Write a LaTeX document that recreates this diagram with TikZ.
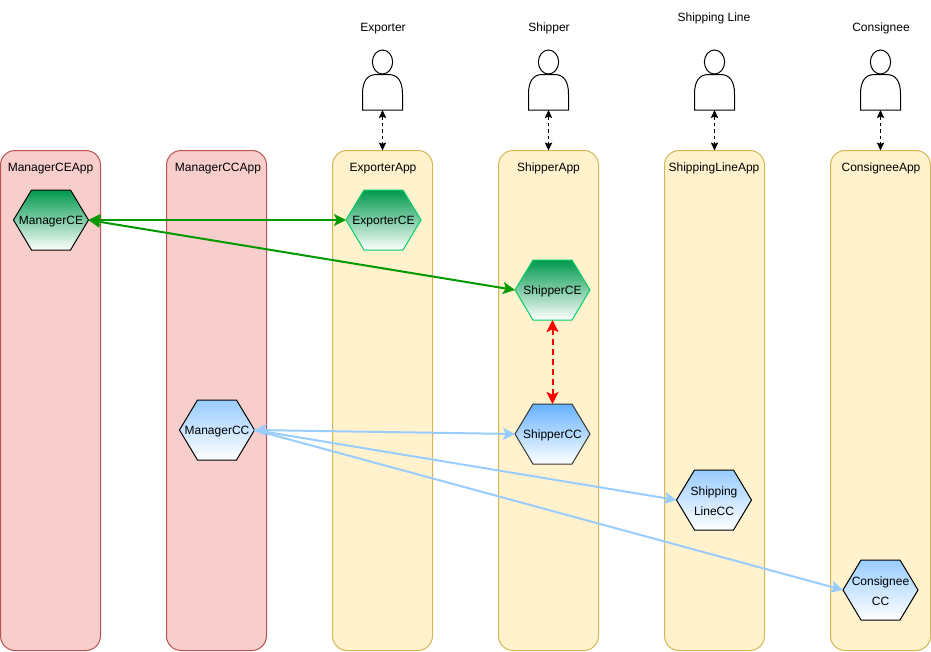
\documentclass[tikz,border=0pt]{standalone}
\usepackage{fontspec}
\setmainfont{Liberation Sans}
\usetikzlibrary{arrows.meta,calc}
\definecolor{redfill}{HTML}{F8CECC}
\definecolor{redline}{HTML}{B85450}
\definecolor{yelfill}{HTML}{FFF2CC}
\definecolor{yelline}{HTML}{D6B656}
\definecolor{gtop}{HTML}{00994D}
\definecolor{gline}{HTML}{00CC66}
\definecolor{conng}{HTML}{009900}
\definecolor{btop}{HTML}{99CCFF}
\definecolor{bstrong}{HTML}{66B2FF}
\tikzset{
  x=0.75pt,y=-0.75pt,
  txt/.style={font=\fontsize{9pt}{14.7pt}\selectfont,text=black,align=center,inner sep=0pt,outer sep=0pt,yshift=-1pt},
  lanebox/.style={draw,line width=0.75pt,rounded corners=11pt,minimum width=75pt,minimum height=375pt,inner sep=0pt,outer sep=0pt},
  mgrlane/.style={lanebox,fill=redfill,draw=redline},
  applane/.style={lanebox,fill=yelfill,draw=yelline},
  hexnode/.style={minimum width=56.25pt,minimum height=45pt,inner sep=0pt,outer sep=0pt},
  hexshape/.style={line width=0.75pt,line join=miter},
  greenhex/.style={hexshape,top color=gtop,bottom color=white,draw=gline},
  greenblk/.style={hexshape,top color=gtop,bottom color=white,draw=black},
  bluehex/.style={hexshape,top color=btop,bottom color=white,draw=black},
  bluestrong/.style={hexshape,top color=bstrong,bottom color=white,draw=black!80},
  actorbox/.style={minimum width=30pt,minimum height=45pt,inner sep=0pt,outer sep=0pt},
  actorline/.style={draw=black,fill=white,line width=0.75pt},
  smalltip/.style={Stealth[length=6pt,width=5.5pt,inset=1pt]},
  bigtip/.style={Stealth[length=9pt,width=9pt,inset=2pt]},
  userlink/.style={draw=black,line width=0.75pt,dash pattern=on 2.6pt off 2.2pt,{Stealth[length=6pt,width=5.5pt,inset=1pt]}-{Stealth[length=6pt,width=5.5pt,inset=1pt]}},
  greenlink/.style={draw=conng,line width=1.5pt,{Stealth[length=9pt,width=9pt,inset=2pt]}-{Stealth[length=9pt,width=9pt,inset=2pt]}},
  bluelink/.style={draw=btop,line width=1.5pt,-{Stealth[length=9pt,width=9pt,inset=2pt]}},
  bluelinkboth/.style={draw=btop,line width=1.5pt,{Stealth[length=9pt,width=9pt,inset=2pt]}-{Stealth[length=9pt,width=9pt,inset=2pt]}},
  redlink/.style={draw=red,line width=1.5pt,dash pattern=on 4.5pt off 3pt,{Stealth[length=9pt,width=9pt,inset=2pt]}-{Stealth[length=9pt,width=9pt,inset=2pt]}},
}
% \hexa{name}{cx}{cy}{style}{text}
\newcommand{\hexa}[5]{%
  \path[#4] (#2-37.5,#3) -- (#2-19.5,#3-30) -- (#2+19.5,#3-30) -- (#2+37.5,#3) -- (#2+19.5,#3+30) -- (#2-19.5,#3+30) -- cycle;
  \node[hexnode] (#1) at (#2,#3) {};
  \node[txt] (#1text) at (#2,#3) {#5};
}
% \actor{name}{cx}
\newcommand{\actor}[2]{%
  \path[actorline] (#2-20,110) -- (#2-20,94) .. controls (#2-20,81) and (#2-15,74.5) .. (#2-6,74.5) -- (#2+6,74.5) .. controls (#2+15,74.5) and (#2+20,81) .. (#2+20,94) -- (#2+20,110) -- cycle;
  \path[actorline] (#2,62) ellipse [x radius=7.6pt,y radius=9pt];
  \node[actorbox] (#1) at (#2,80) {};
}
\begin{document}
\begin{tikzpicture}
\useasboundingbox[fill=white] (0,0) rectangle (931,651);
% lanes
\node[mgrlane] (laneA) at (50.5,400.5) {};
\node[mgrlane] (laneB) at (216.5,400.5) {};
\node[applane] (laneC) at (382.5,400.5) {};
\node[applane] (laneD) at (548.5,400.5) {};
\node[applane] (laneE) at (714.5,400.5) {};
\node[applane] (laneF) at (880.5,400.5) {};
% lane titles
\node[txt] (titleA) at (50.5,167) {ManagerCEApp};
\node[txt] (titleB) at (218,167) {ManagerCCApp};
\node[txt] (titleC) at (383,167) {ExporterApp};
\node[txt] (titleD) at (548.5,167) {ShipperApp};
\node[txt] (titleE) at (714,167) {ShippingLineApp};
\node[txt] (titleF) at (881,167) {ConsigneeApp};
% actors
\actor{exporter}{382.5}
\actor{shipper}{548.5}
\actor{shipline}{714.5}
\actor{consignee}{880.5}
\node[txt] (lblexp) at (383,27) {Exporter};
\node[txt] (lblshp) at (549,27) {Shipper};
\node[txt] (lbllin) at (714,17) {Shipping Line};
\node[txt] (lblcon) at (881,27) {Consignee};
% hexagons
\hexa{mce}{51}{220}{greenblk}{ManagerCE}
\hexa{ece}{383.5}{220}{greenhex}{ExporterCE}
\hexa{sce}{552.5}{290}{greenhex}{ShipperCE}
\hexa{mcc}{217}{430}{bluehex}{ManagerCC}
\hexa{scc}{552.5}{434}{bluestrong}{ShipperCC}
\hexa{lcc}{714}{500}{bluehex}{Shipping\\LineCC}
\hexa{ccc}{880.5}{590}{bluehex}{Consignee\\CC}
% connectors
\draw[userlink] (exporter.south) -- (laneC.north);
\draw[userlink] (shipper.south) -- (laneD.north);
\draw[userlink] (shipline.south) -- (laneE.north);
\draw[userlink] (consignee.south) -- (laneF.north);
\draw[greenlink] (mce.east) -- (ece.west);
\draw[greenlink] (mce.east) -- (sce.west);
\draw[redlink] (sce.south) -- (scc.north);
\draw[bluelinkboth] (mcc.east) -- (scc.west);
\draw[bluelink] (mcc.east) -- (lcc.west);
\draw[bluelink] (mcc.east) -- (ccc.west);
\end{tikzpicture}
\end{document}
